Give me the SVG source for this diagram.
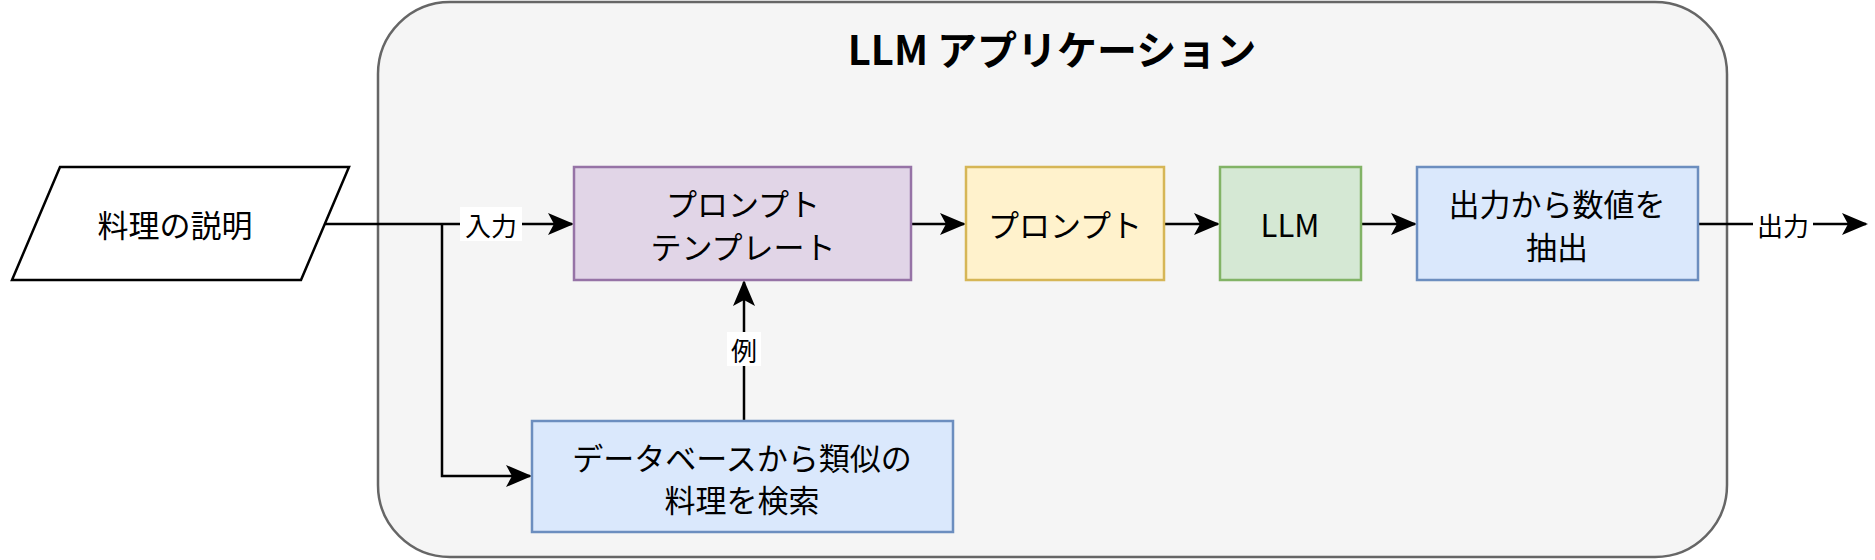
<svg xmlns="http://www.w3.org/2000/svg" width="1875" height="560" viewBox="0 0 1875 560">
<style>
text{font-family:"Noto Sans CJK JP","Liberation Sans",sans-serif;font-size:31px;text-anchor:middle;dominant-baseline:central;fill:#000}
.box{stroke-width:2.5}
.c{stroke:#000;stroke-width:2.5;fill:none}
.lbl{font-size:26px}
</style>
<defs>
<marker id="m" viewBox="0 0 26 22" refX="24" refY="11" markerWidth="26" markerHeight="22" markerUnits="userSpaceOnUse" orient="auto"><path d="M0,0 L26,11 L0,22 L6,11 Z" fill="#000"/></marker>
</defs>
<g id="container"><rect x="378" y="2" width="1349" height="555" rx="72" fill="#f5f5f5" stroke="#666" stroke-width="2.5"/>
<text x="1052" y="48" style="font-size:40px;font-weight:bold">LLM アプリケーション</text></g>
<g id="connectors">
<path class="c" d="M325,224 H572" marker-end="url(#m)"/>
<path class="c" d="M442,224 V476 H530" marker-end="url(#m)"/>
<path class="c" d="M911,224 H964" marker-end="url(#m)"/>
<path class="c" d="M1164,224 H1218" marker-end="url(#m)"/>
<path class="c" d="M1361,224 H1415" marker-end="url(#m)"/>
<path class="c" d="M1698,224 H1866" marker-end="url(#m)"/>
<path class="c" d="M744,421 V282" marker-end="url(#m)"/>
<rect x="460" y="207" width="62" height="34" fill="#fff"/><text class="lbl" x="491" y="224">入力</text>
<rect x="1753" y="207" width="60" height="34" fill="#fff"/><text class="lbl" x="1783" y="224">出力</text>
<rect x="727" y="332" width="34" height="34" fill="#fff"/><text class="lbl" x="744" y="349">例</text>
</g>
<g id="input"><path class="box" d="M60,167 H349 L301,280 H12 Z" fill="#fff" stroke="#000"/><text x="175" y="223">料理の説明</text></g>
<g id="template"><rect class="box" x="574" y="167" width="337" height="113" fill="#e1d5e7" stroke="#9673a6"/><text x="743" y="202">プロンプト</text><text x="743" y="245">テンプレート</text></g>
<g id="prompt"><rect class="box" x="966" y="167" width="198" height="113" fill="#fff2cc" stroke="#d6b656"/><text x="1065" y="223">プロンプト</text></g>
<g id="llm"><rect class="box" x="1220" y="167" width="141" height="113" fill="#d5e8d4" stroke="#82b366"/><text x="1290" y="223">LLM</text></g>
<g id="extract"><rect class="box" x="1417" y="167" width="281" height="113" fill="#dae8fc" stroke="#6c8ebf"/><text x="1557" y="202">出力から数値を</text><text x="1557" y="245">抽出</text></g>
<g id="db"><rect class="box" x="532" y="421" width="421" height="111" fill="#dae8fc" stroke="#6c8ebf"/><text x="742" y="456">データベースから類似の</text><text x="742" y="498">料理を検索</text></g>
</svg>
